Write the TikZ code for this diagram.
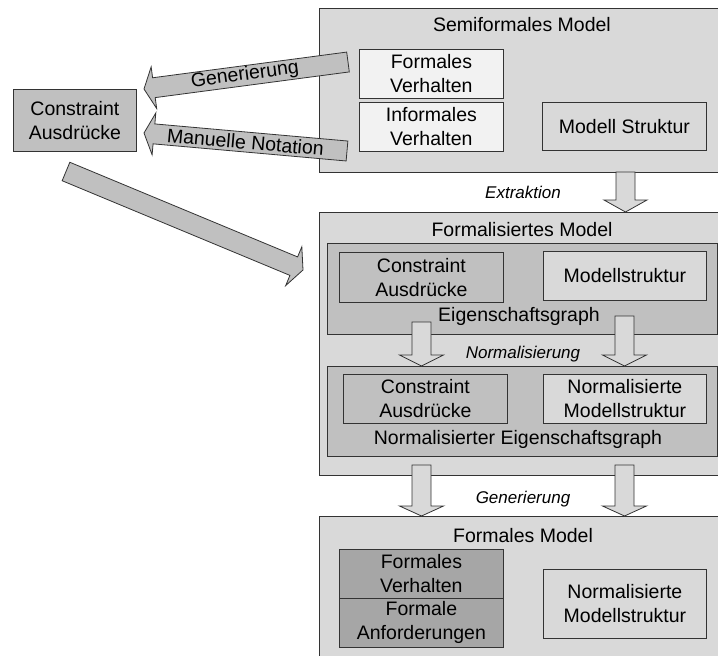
\documentclass[tikz,border=0pt]{standalone}
\usepackage{fontspec}
\setmainfont{Liberation Sans}
\usetikzlibrary{calc}
\definecolor{lgray}{HTML}{D9D9D9}
\definecolor{mgray}{HTML}{C0C0C0}
\definecolor{dgray}{HTML}{A6A6A6}
\definecolor{wgray}{HTML}{F2F2F2}
\definecolor{edge}{HTML}{333333}
% block arrow: [options]{tail}{tip}{shaft half width}{head half width}{head length}
\newcommand\blockarr[6][]{%
  \path ($(#3)!#6pt!(#2)$) coordinate (ba-b);
  \draw[#1] ($(#2)!#4pt!90:(#3)$) -- ($(ba-b)!#4pt!90:(#3)$) -- ($(ba-b)!#5pt!90:(#3)$)
    -- (#3) -- ($(ba-b)!#5pt!-90:(#3)$) -- ($(ba-b)!#4pt!-90:(#3)$) -- ($(#2)!#4pt!-90:(#3)$) -- cycle;}
\begin{document}
\begin{tikzpicture}[x=1pt,y=-1pt,
  box/.style={draw=edge, line width=0.8pt, anchor=north west, inner sep=0pt,
    align=center, font=\fontsize{19.5}{24}\selectfont, text=black},
  title/.style={anchor=base, inner sep=0pt, font=\fontsize{19.5}{24}\selectfont},
  steplabel/.style={anchor=base, inner sep=0pt, font=\fontsize{17}{20}\selectfont\itshape},
  arrowtext/.style={inner sep=0pt, font=\fontsize{19.5}{24}\selectfont},
  barrow/.style={draw=edge, line width=0.8pt, line join=miter},
]
\clip (0,0) rectangle (718,656);
\fill[white] (0,0) rectangle (718,656);

% Semiformales Model
\node[box, fill=lgray, minimum width=406, minimum height=164] (semi) at (319,8) {};
\node[title] (semit) at (522,31.7) {Semiformales Model};
\node[box, fill=wgray, minimum width=144, minimum height=49] (fv) at (359,49) {Formales\\Verhalten};
\node[box, fill=wgray, minimum width=144, minimum height=49] (iv) at (359,102) {Informales\\Verhalten};
\node[box, fill=lgray, minimum width=164, minimum height=48] (ms) at (542,102) {Modell Struktur};

% Formalisiertes Model
\node[box, fill=lgray, minimum width=406, minimum height=263] (form) at (319,212) {};
\node[title] (formt) at (522,236.7) {Formalisiertes Model};
\node[box, fill=mgray, minimum width=390, minimum height=91] (eg) at (327,243) {};
\node[box, fill=mgray, minimum width=164, minimum height=50] (ca1) at (339,252) {Constraint\\Ausdrücke};
\node[box, fill=lgray, minimum width=163, minimum height=49] (ms1) at (543,251) {Modellstruktur};
\node[title] (egt) at (519,321.5) {Eigenschaftsgraph};
\node[box, fill=mgray, minimum width=390, minimum height=90] (neg) at (327,366) {};
\node[box, fill=mgray, minimum width=164, minimum height=49] (ca2) at (343,374) {Constraint\\Ausdrücke};
\node[box, fill=lgray, minimum width=163, minimum height=49] (nms1) at (543,374) {Normalisierte\\Modellstruktur};
\node[title] (negt) at (518,444) {Normalisierter Eigenschaftsgraph};

% Formales Model
\node[box, fill=lgray, minimum width=406, minimum height=150] (fm) at (319,516) {};
\node[title] (fmt) at (523,542.7) {Formales Model};
\node[box, fill=dgray, minimum width=164, minimum height=49] (fv2) at (339,549) {Formales\\Verhalten};
\node[box, fill=dgray, minimum width=164, minimum height=49] (fa) at (339,598) {Formale\\Anforderungen};
\node[box, fill=lgray, minimum width=163, minimum height=69] (nms2) at (543,569) {Normalisierte\\Modellstruktur};

% left box
\node[box, fill=mgray, minimum width=123, minimum height=62] (cal) at (13,89) {Constraint\\Ausdrücke};

% step labels
\node[steplabel] (lext) at (523,198) {Extraktion};
\node[steplabel] (lnorm) at (523,358) {Normalisierung};
\node[steplabel] (lgen) at (523,503) {Generierung};

% arrow end points
\coordinate (ext-a) at (625.5,172);  \coordinate (ext-b) at (625.5,212);
\coordinate (n1-a) at (421.5,322);   \coordinate (n1-b) at (421.5,366);
\coordinate (n2-a) at (624.5,316);   \coordinate (n2-b) at (624.5,366);
\coordinate (g1-a) at (421.5,465);   \coordinate (g1-b) at (421.5,516);
\coordinate (g2-a) at (624.5,465);   \coordinate (g2-b) at (624.5,516);
\coordinate (gen-a) at (348,62);     \coordinate (gen-b) at (144,89);
\coordinate (man-a) at (347,151);    \coordinate (man-b) at (144,133);
\coordinate (dia-a) at (66,171.5);   \coordinate (dia-b) at (303,270);

\blockarr[barrow, fill=lgray]{ext-a}{ext-b}{9.5}{21.5}{12}
\blockarr[barrow, fill=lgray]{n1-a}{n1-b}{9.5}{22}{11}
\blockarr[barrow, fill=lgray]{n2-a}{n2-b}{9.5}{22}{11}
\blockarr[barrow, fill=lgray]{g1-a}{g1-b}{9.5}{22}{10}
\blockarr[barrow, fill=lgray]{g2-a}{g2-b}{9.5}{22}{10}
\blockarr[barrow, fill=mgray]{gen-a}{gen-b}{10}{21}{10}
\blockarr[barrow, fill=mgray]{man-a}{man-b}{10}{21}{10}
\blockarr[barrow, fill=mgray]{dia-a}{dia-b}{10}{21}{10}

\node[arrowtext, rotate=7.5] (gent) at ($(gen-a)!0.5!(gen-b)+(-1,-0.5)$) {Generierung};
\node[arrowtext, rotate=-5] (mant) at ($(man-a)!0.5!(man-b)$) {Manuelle Notation};
\end{tikzpicture}
\end{document}
